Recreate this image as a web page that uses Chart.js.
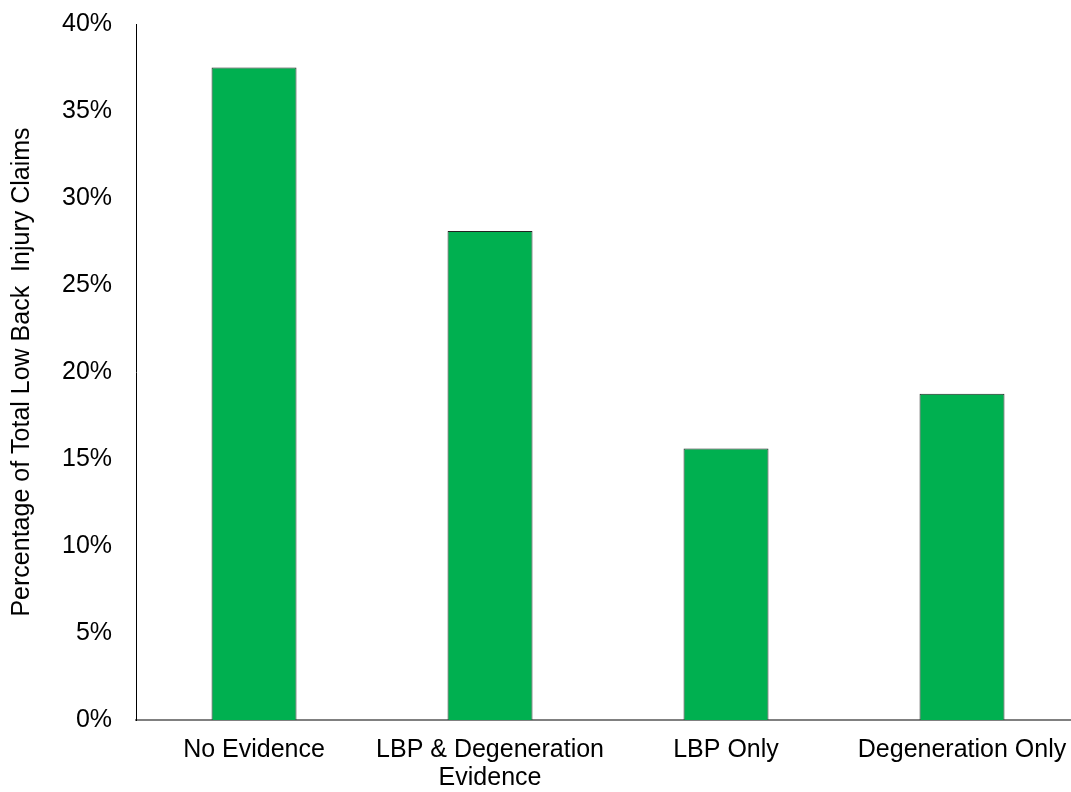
<!DOCTYPE html>
<html>
<head>
<meta charset="utf-8">
<script src="https://cdn.jsdelivr.net/npm/chart.js@4"></script>
<style>
  html, body { margin: 0; padding: 0; background: #fff; overflow: hidden; }
  #wrap { width: 1090px; height: 792px; position: relative; }
</style>
</head>
<body>
<div id="wrap"><canvas id="claimsChart"></canvas></div>
<script>
// Share of low back injury claims by evidence group
const categories = ['No Evidence', ['LBP & Degeneration', 'Evidence'], 'LBP Only', 'Degeneration Only'];
const claimShares = [37.5, 28.1, 15.6, 18.75];
const yTicks = [0, 5, 10, 15, 20, 25, 30, 35, 40];

const fontFamily = '"Liberation Sans", Arial, sans-serif';

const ctx = document.getElementById('claimsChart');
new Chart(ctx, {
    type: 'bar',
    data: {
        labels: categories,
        datasets: [{
            data: claimShares,
            backgroundColor: '#00B050',
            borderColor: '#222222',
            borderWidth: 1,
            categoryPercentage: 1,
            barPercentage: 0.36
        }]
    },
    options: {
        responsive: true,
        maintainAspectRatio: false,
        animation: false,
        layout: { padding: { top: 24, right: 10, left: 7, bottom: 0 } },
        plugins: {
            legend: { display: false },
            tooltip: { enabled: false }
        },
        scales: {
            x: {
                // invisible tick marks give the gap under the axis line
                grid: { display: false, drawTicks: true, tickLength: 16 },
                border: { display: true, color: '#808080', width: 2 },
                ticks: {
                    color: '#000',
                    font: { family: fontFamily, size: 25, lineHeight: 1.12 },
                    padding: 0,
                    maxRotation: 0,
                    autoSkip: false
                }
            },
            y: {
                min: 0,
                max: 40,
                afterBuildTicks: axis => {
                    axis.ticks = yTicks.map(v => ({ value: v }));
                },
                grid: { display: false, drawTicks: true, tickLength: 24 },
                border: { display: true, color: '#000', width: 1 },
                ticks: {
                    color: '#000',
                    font: { family: fontFamily, size: 25 },
                    padding: 0,
                    callback: v => v + '%'
                },
                title: {
                    display: true,
                    text: 'Percentage of Total Low Back  Injury Claims',
                    color: '#000',
                    font: { family: fontFamily, size: 25 },
                    padding: { top: 0, bottom: 25 }
                }
            }
        }
    }
});
</script>
</body>
</html>
